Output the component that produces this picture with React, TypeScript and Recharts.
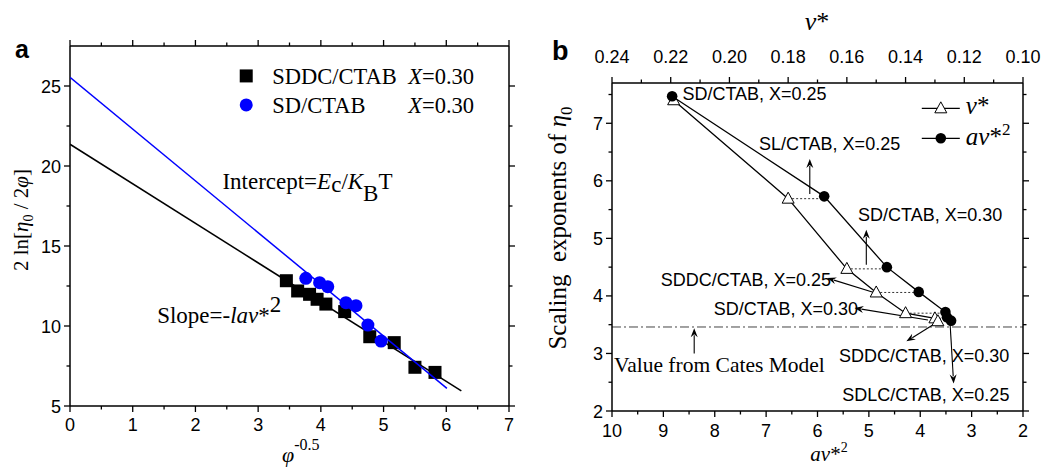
import React from "react";
import { ComposedChart, Scatter, XAxis, YAxis, ReferenceLine, ReferenceDot } from "recharts";

// ---------- panel a : 2 ln[eta0 / 2phi] vs phi^-0.5 ----------
const phiSddc = [3.45, 3.63, 3.82, 3.94, 4.08, 4.38, 4.78, 5.17, 5.5, 5.82];
const lnSddc = [12.83, 12.19, 11.98, 11.67, 11.37, 10.9, 9.33, 8.96, 7.42, 7.1];
const phiSd = [3.76, 3.98, 4.11, 4.4, 4.56, 4.75, 4.96];
const lnSd = [12.98, 12.71, 12.46, 11.46, 11.27, 10.06, 9.06];
// linear fits, end points
const fitSddcPhi = [0, 6.24];
const fitSddcLn = [21.36, 5.94];
const fitSdPhi = [0, 6.01];
const fitSdLn = [25.54, 6.1];

const aXMajor = [0, 1, 2, 3, 4, 5, 6, 7];
const aXMinor = [0.5, 1.5, 2.5, 3.5, 4.5, 5.5, 6.5];
const aYMajor = [5, 10, 15, 20, 25];
const aYMinor = [7.5, 12.5, 17.5, 22.5];

// ---------- panel b : scaling exponents ----------
const samples = [
  "SD/CTAB, X=0.25",
  "SL/CTAB, X=0.25",
  "SD/CTAB, X=0.30",
  "SDDC/CTAB, X=0.25",
  "SD/CTAB, X=0.30",
  "SDDC/CTAB, X=0.30",
  "SDLC/CTAB, X=0.25",
];
const vStar = [0.219, 0.18, 0.16, 0.15, 0.14, 0.13, 0.129];
const expV = [7.4, 5.69, 4.47, 4.06, 3.7, 3.61, 3.56];
const avStar2 = [8.83, 5.87, 4.65, 4.03, 3.51, 3.48, 3.4];
const expAv = [7.47, 5.73, 4.5, 4.07, 3.72, 3.63, 3.57];
const catesValue = 3.46;

const bTopMajor = [0.24, 0.22, 0.2, 0.18, 0.16, 0.14, 0.12, 0.1];
const bTopMinor = [0.23, 0.21, 0.19, 0.17, 0.15, 0.13, 0.11];
const bBotMajor = [10, 9, 8, 7, 6, 5, 4, 3, 2];
const bBotMinor = [9.5, 8.5, 7.5, 6.5, 5.5, 4.5, 3.5, 2.5];
const bYMajor = [2, 3, 4, 5, 6, 7];
const bYMinor = [2.5, 3.5, 4.5, 5.5, 6.5, 7.5];

// annotation anchors for panel b (av*^2, exponent)
const notes = [
  { text: samples[0], a: 8.63, y: 7.41 },
  { text: samples[1], a: 7.14, y: 6.53 },
  { text: samples[2], a: 5.21, y: 5.3 },
  { text: samples[3], a: 9.05, y: 4.17 },
  { text: samples[4], a: 8.02, y: 3.67 },
  { text: samples[5], a: 5.58, y: 2.86 },
  { text: samples[6], a: 5.52, y: 2.18 },
];
const arrows = [
  { a1: 6.15, y1: 5.77, a2: 6.15, y2: 6.38 },
  { a1: 5.05, y1: 4.54, a2: 5.05, y2: 5.15 },
  { a1: 4.87, y1: 4.05, a2: 5.81, y2: 4.31 },
  { a1: 3.85, y1: 3.58, a2: 5.28, y2: 3.79 },
  { a1: 3.75, y1: 3.5, a2: 4.27, y2: 3.21 },
  { a1: 3.42, y1: 3.53, a2: 3.35, y2: 2.48 },
  { a1: 8.4, y1: 3.0, a2: 8.4, y2: 3.44 },
];

const SANS = '"Liberation Sans", Arial, sans-serif';
const SERIF = '"Liberation Serif", "Times New Roman", serif';
const BLUE = "#0000ff";

const zip = (xs: number[], ys: number[]) => xs.map((x, i) => ({ x, y: ys[i] }));
const sorted = (a: number[], b: number[]) => [...a, ...b].sort((p, q) => p - q);
// top axis (v*) value -> bottom axis (av*^2) value, both axes span the same width
const vToA = (v: number) => 10 - ((0.24 - v) / 0.14) * 8;

type Side = "bottom" | "top" | "left" | "right";

function axisTick(side: Side, majors: number[], showLabel: boolean, gap: number, fmt = (v: number) => String(v)) {
  return (p: any) => {
    const { x, y } = p;
    const v = p.payload.value;
    const major = majors.includes(v);
    const len = major ? 6 : 3.5;
    let x2 = x, y2 = y, lx = x, ly = y;
    let anchor = "middle";
    if (side === "bottom") { y2 = y + len; ly = y + gap; }
    else if (side === "top") { y2 = y - len; ly = y - gap; }
    else if (side === "left") { x2 = x - len; lx = x - gap; ly = y + 6.5; anchor = "end"; }
    else { x2 = x + len; }
    return (
      <g>
        <line x1={x} y1={y} x2={x2} y2={y2} stroke="#000" strokeWidth={1.3} />
        {major && showLabel && (
          <text x={lx} y={ly} textAnchor={anchor} fontFamily={SANS} fontSize={18} fill="#000">
            {fmt(v)}
          </text>
        )}
      </g>
    );
  };
}

const axisLine = { stroke: "#000", strokeWidth: 1.5 };

const Square = (p: any) => <rect x={p.cx - 6.5} y={p.cy - 6.5} width={13} height={13} fill="#000" />;
const BlueDot = (p: any) => <circle cx={p.cx} cy={p.cy} r={6.5} fill={BLUE} />;
const BlackDot = (p: any) => <circle cx={p.cx} cy={p.cy} r={5.3} fill="#000" />;
const Tri = (p: any) => (
  <polygon
    points={`${p.cx},${p.cy - 6.5} ${p.cx - 6},${p.cy + 4.5} ${p.cx + 6},${p.cy + 4.5}`}
    fill="#fff"
    stroke="#000"
    strokeWidth={1}
  />
);
const Nothing = () => <g />;

const Arrow = (p: any) => {
  const { x1, y1, x2, y2 } = p;
  const ang = Math.atan2(y2 - y1, x2 - x1);
  const hl = 9, hw = 3.5;
  const bx = x2 - hl * Math.cos(ang), by = y2 - hl * Math.sin(ang);
  const nx = -Math.sin(ang) * hw, ny = Math.cos(ang) * hw;
  return (
    <g>
      <line x1={x1} y1={y1} x2={bx + 2 * Math.cos(ang)} y2={by + 2 * Math.sin(ang)} stroke="#000" strokeWidth={1.1} />
      <polygon points={`${x2},${y2} ${bx + nx},${by + ny} ${bx + 3 * Math.cos(ang)},${by + 3 * Math.sin(ang)} ${bx - nx},${by - ny}`} fill="#000" />
    </g>
  );
};

// axes need a non-zero size to be drawn; 1px each, taken off the margins
const AX = { tickSize: 0, tickMargin: 0, tickLine: false, axisLine, interval: 0 as const, allowDataOverflow: true, type: "number" as const };

function PanelA() {
  const ids = { xAxisId: "b", yAxisId: "l" };
  return (
    <ComposedChart width={530} height={468} margin={{ top: 45, right: 20, bottom: 61, left: 69 }}>
      <XAxis xAxisId="b" dataKey="x" domain={[0, 7]} ticks={sorted(aXMajor, aXMinor)} height={1} {...AX} tick={axisTick("bottom", aXMajor, true, 25)} />
      <XAxis xAxisId="t" orientation="top" dataKey="x" domain={[0, 7]} ticks={sorted(aXMajor, aXMinor)} height={1} {...AX} tick={axisTick("top", aXMajor, false, 0)} />
      <YAxis yAxisId="l" dataKey="y" domain={[5, 27.5]} ticks={sorted(aYMajor, aYMinor)} width={1} {...AX} tick={axisTick("left", aYMajor, true, 9)} />
      <YAxis yAxisId="r" orientation="right" dataKey="y" domain={[5, 27.5]} ticks={sorted(aYMajor, aYMinor)} width={1} {...AX} tick={axisTick("right", aYMajor, false, 0)} />

      <Scatter {...ids} data={zip(fitSddcPhi, fitSddcLn)} line={{ stroke: "#000", strokeWidth: 1.5 }} shape={Nothing} isAnimationActive={false} />
      <Scatter {...ids} data={zip(phiSddc, lnSddc)} shape={Square} isAnimationActive={false} />
      <Scatter {...ids} data={zip(fitSdPhi, fitSdLn)} line={{ stroke: BLUE, strokeWidth: 1.5 }} shape={Nothing} isAnimationActive={false} />
      <Scatter {...ids} data={zip(phiSd, lnSd)} shape={BlueDot} isAnimationActive={false} />

      <ReferenceDot {...ids} x={2.81} y={25.63} r={0} shape={(p: any) => (
        <g fontFamily={SERIF} fontSize={22.5} fill="#000">
          <rect x={p.cx - 6.5} y={p.cy - 6.5} width={13} height={13} fill="#000" />
          <text x={p.cx + 26} y={p.cy + 8}>
            SDDC/CTAB<tspan x={p.cx + 162} fontStyle="italic">X</tspan>=0.30
          </text>
          <circle cx={p.cx} cy={p.cy + 29} r={6.5} fill={BLUE} />
          <text x={p.cx + 26} y={p.cy + 37}>
            SD/CTAB<tspan x={p.cx + 162} fontStyle="italic">X</tspan>=0.30
          </text>
        </g>
      )} />
      <ReferenceDot {...ids} x={2.43} y={18.54} r={0} shape={(p: any) => (
        <text x={p.cx} y={p.cy} fontFamily={SERIF} fontSize={23} fill="#000">
          Intercept=<tspan fontStyle="italic">E</tspan>
          <tspan dy={3}>c</tspan>
          <tspan dy={-3}>/</tspan>
          <tspan fontStyle="italic">K</tspan>
          <tspan dy={12}>B</tspan>
          <tspan dy={-12}>T</tspan>
        </text>
      )} />
      <ReferenceDot {...ids} x={1.39} y={10.17} r={0} shape={(p: any) => (
        <text x={p.cx} y={p.cy} fontFamily={SERIF} fontSize={23} fill="#000">
          Slope=-<tspan fontStyle="italic">lav</tspan>*<tspan dy={-11}>2</tspan>
        </text>
      )} />
    </ComposedChart>
  );
}

function PanelB() {
  const bot = { xAxisId: "bot", yAxisId: "l" };
  const top = { xAxisId: "top", yAxisId: "l" };
  const dotted = [1, 2, 3, 4, 5];
  return (
    <ComposedChart width={526} height={468} margin={{ top: 82, right: 32, bottom: 56, left: 81 }}>
      <XAxis xAxisId="bot" dataKey="x" domain={[2, 10]} reversed ticks={sorted(bBotMajor, bBotMinor)} height={1} {...AX} tick={axisTick("bottom", bBotMajor, true, 26)} />
      <XAxis xAxisId="top" orientation="top" dataKey="x" domain={[0.1, 0.24]} reversed ticks={sorted(bTopMajor, bTopMinor)} height={1} {...AX}
        tick={axisTick("top", bTopMajor, true, 20, (v) => v.toFixed(2))} />
      <YAxis yAxisId="l" dataKey="y" domain={[2, 7.7]} ticks={sorted(bYMajor, bYMinor)} width={1} {...AX} tick={axisTick("left", bYMajor, true, 9)} />
      <YAxis yAxisId="r" orientation="right" dataKey="y" domain={[2, 7.7]} ticks={sorted(bYMajor, bYMinor)} width={1} {...AX} tick={axisTick("right", bYMajor, false, 0)} />

      <ReferenceLine {...bot} y={catesValue} stroke="#444" strokeWidth={1} strokeDasharray="9 3 2 3" />
      {dotted.map((i) => (
        <Scatter key={i} {...bot} data={[{ x: vToA(vStar[i]), y: expV[i] }, { x: avStar2[i], y: expV[i] }]}
          line={{ stroke: "#333", strokeWidth: 1, strokeDasharray: "2 2" }} shape={Nothing} isAnimationActive={false} />
      ))}
      <Scatter {...top} data={zip(vStar, expV)} line={{ stroke: "#000", strokeWidth: 1.3 }} shape={Tri} isAnimationActive={false} />
      <Scatter {...bot} data={zip(avStar2, expAv)} line={{ stroke: "#000", strokeWidth: 1.3 }} shape={BlackDot} isAnimationActive={false} />

      {arrows.map((a, i) => (
        <ReferenceLine key={"a" + i} {...bot} segment={[{ x: a.a1, y: a.y1 }, { x: a.a2, y: a.y2 }]} shape={Arrow} />
      ))}
      {notes.map((n, i) => (
        <ReferenceDot key={"n" + i} {...bot} x={n.a} y={n.y} r={0} shape={(p: any) => (
          <text x={p.cx} y={p.cy} fontFamily={SANS} fontSize={18} fill="#000">{n.text}</text>
        )} />
      ))}
      <ReferenceDot {...bot} x={9.96} y={2.68} r={0} shape={(p: any) => (
        <text x={p.cx} y={p.cy} fontFamily={SERIF} fontSize={21.5} fill="#000">Value from Cates Model</text>
      )} />
      <ReferenceDot {...bot} x={3.6} y={7.26} r={0} shape={(p: any) => (
        <g fill="#000" fontFamily={SERIF}>
          <line x1={p.cx - 19} y1={p.cy} x2={p.cx + 19} y2={p.cy} stroke="#000" strokeWidth={1.3} />
          <Tri cx={p.cx} cy={p.cy} />
          <text x={p.cx + 25} y={p.cy + 6} fontSize={25}><tspan fontStyle="italic">v</tspan>*</text>
          <line x1={p.cx - 19} y1={p.cy + 30} x2={p.cx + 19} y2={p.cy + 30} stroke="#000" strokeWidth={1.3} />
          <circle cx={p.cx} cy={p.cy + 30} r={5.3} fill="#000" />
          <text x={p.cx + 25} y={p.cy + 37} fontSize={25}>
            <tspan fontStyle="italic">av</tspan>*<tspan dy={-10} fontSize={17}>2</tspan>
          </text>
        </g>
      )} />
    </ComposedChart>
  );
}

export default function App() {
  return (
    <div style={{ position: "absolute", left: 0, top: 0, width: 1056, height: 468, background: "#fff" }}>
      <div style={{ position: "absolute", left: 0, top: 0 }}>
        <PanelA />
      </div>
      <div style={{ position: "absolute", left: 530, top: 0 }}>
        <PanelB />
      </div>
      <svg width={1056} height={468} style={{ position: "absolute", left: 0, top: 0, pointerEvents: "none" }}>
        <text x={15} y={58} fontFamily={SANS} fontWeight="bold" fontSize={25}>a</text>
        <text x={552} y={60} fontFamily={SANS} fontWeight="bold" fontSize={27}>b</text>
        <text transform="translate(28,220) rotate(-90)" textAnchor="middle" fontFamily={SERIF} fontSize={21}>
          2 ln[<tspan fontStyle="italic">η</tspan><tspan fontSize={14} dy={5}>0</tspan><tspan dy={-5}> / 2</tspan><tspan fontStyle="italic">φ</tspan>]
        </text>
        <text x={282} y={462} fontFamily={SERIF} fontSize={22}>
          <tspan fontStyle="italic">φ</tspan><tspan dy={-12} fontSize={16}>-0.5</tspan>
        </text>
        <text x={817} y={30} textAnchor="middle" fontFamily={SERIF} fontSize={26}>
          <tspan fontStyle="italic">v</tspan>*
        </text>
        <text x={829} y={461} textAnchor="middle" fontFamily={SERIF} fontSize={21}>
          <tspan fontStyle="italic">av</tspan>*<tspan dy={-9} fontSize={14}>2</tspan>
        </text>
        <text transform="translate(566,228) rotate(-90)" textAnchor="middle" fontFamily={SERIF} fontSize={25} style={{ whiteSpace: "pre" }}>
          {"Scaling  exponents of "}<tspan fontStyle="italic">η</tspan><tspan fontSize={17} dy={6}>0</tspan>
        </text>
      </svg>
    </div>
  );
}
